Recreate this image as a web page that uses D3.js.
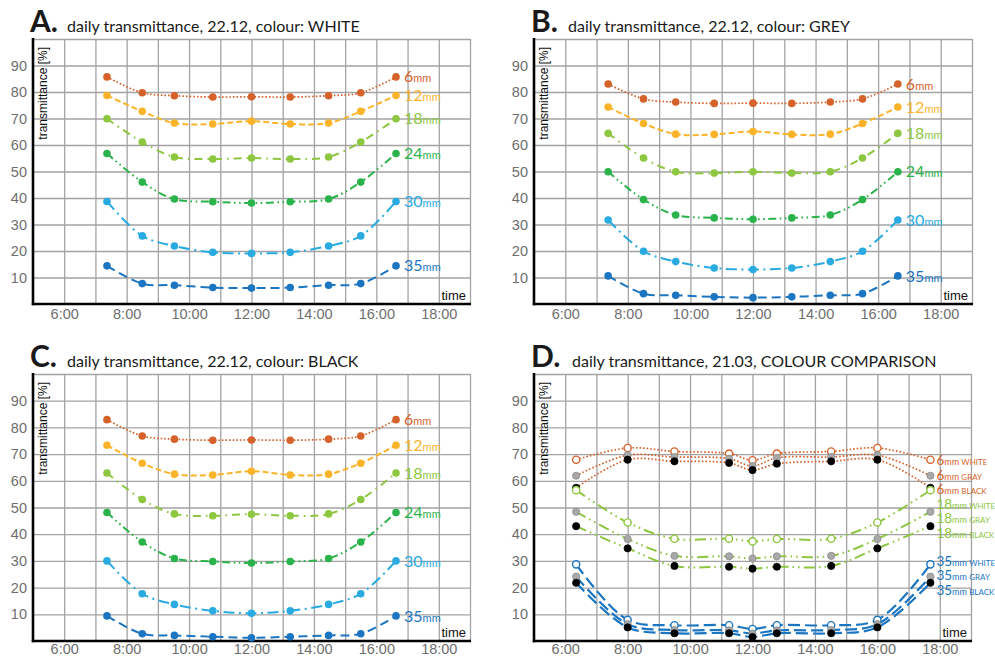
<!DOCTYPE html>
<html><head><meta charset="utf-8">
<script src="https://cdn.jsdelivr.net/npm/d3@7"></script>
<style>body{margin:0;background:#fff} svg{display:block}</style>
</head><body><svg id="chart" width="995" height="658"></svg>
<script>
// ---------- data ----------
// measurement times (decimal hours)
const timesDec = [7.37, 8.5, 9.53, 10.76, 12, 13.24, 14.47, 15.5, 16.63];   // 22.12
const timesMar = [6.35, 8.0, 9.5, 11.25, 12.0, 12.78, 14.52, 16.0, 17.7];   // 21.03
const thicknesses = ["6", "12", "18", "24", "30", "35"];

const whiteValues = [
  [85.7, 79.7, 78.6, 78.1, 78.2, 78.1, 78.6, 79.7, 85.7],
  [78.7, 72.7, 68.3, 67.9, 69.0, 67.9, 68.3, 72.7, 78.7],
  [69.9, 61.1, 55.5, 54.7, 55.1, 54.7, 55.5, 61.1, 69.9],
  [56.8, 46.0, 39.6, 38.6, 38.1, 38.6, 39.6, 46.0, 56.8],
  [38.7, 25.7, 21.9, 19.5, 19.1, 19.5, 21.9, 25.7, 38.7],
  [14.4, 7.7, 7.1, 6.2, 6.0, 6.2, 7.1, 7.7, 14.4]
];
const greyValues = [
  [83.0, 77.4, 76.2, 75.7, 75.8, 75.7, 76.2, 77.4, 83.0],
  [74.3, 68.1, 64.1, 64.0, 65.1, 64.0, 64.1, 68.1, 74.3],
  [64.4, 55.1, 49.9, 49.4, 49.9, 49.4, 49.9, 55.1, 64.4],
  [49.9, 39.4, 33.6, 32.5, 32.0, 32.5, 33.6, 39.4, 49.9],
  [31.7, 19.9, 16.0, 13.6, 13.0, 13.6, 16.0, 19.9, 31.7],
  [10.6, 3.9, 3.3, 2.7, 2.4, 2.7, 3.3, 3.9, 10.6]
];
const blackValues = [
  [82.9, 76.8, 75.6, 75.2, 75.3, 75.2, 75.6, 76.8, 82.9],
  [73.3, 66.6, 62.5, 62.2, 63.6, 62.2, 62.5, 66.6, 73.3],
  [62.9, 53.0, 47.6, 46.9, 47.5, 46.9, 47.6, 53.0, 62.9],
  [48.1, 37.1, 30.9, 29.8, 29.2, 29.8, 30.9, 37.1, 48.1],
  [30.0, 17.7, 13.7, 11.3, 10.4, 11.3, 13.7, 17.7, 30.0],
  [9.4, 2.7, 2.1, 1.6, 1.2, 1.6, 2.1, 2.7, 9.4]
];

const compThickness = ["6", "6", "6", "18", "18", "18", "35", "35", "35"];
const compColour = ["WHITE", "GRAY", "BLACK", "WHITE", "GRAY", "BLACK", "WHITE", "GRAY", "BLACK"];
const compValues = [
  [67.9, 72.3, 71.0, 70.2, 67.7, 70.2, 71.0, 72.3, 67.9],
  [61.9, 69.6, 68.9, 68.3, 65.5, 68.6, 68.9, 69.6, 61.9],
  [57.4, 67.9, 67.3, 66.7, 64.0, 66.4, 67.3, 67.9, 57.4],
  [56.5, 44.4, 38.3, 38.3, 37.3, 38.2, 38.3, 44.4, 56.5],
  [48.4, 38.2, 31.9, 31.7, 30.9, 31.7, 31.9, 38.2, 48.4],
  [43.0, 34.7, 28.1, 27.8, 27.1, 27.8, 28.1, 34.7, 43.0],
  [28.7, 7.9, 5.9, 5.9, 4.5, 5.9, 5.9, 7.9, 28.7],
  [24.1, 6.3, 4.1, 4.0, 2.8, 4.0, 4.1, 6.3, 24.1],
  [21.8, 5.1, 2.9, 2.9, 1.5, 2.9, 2.9, 5.1, 21.8]
];

const xTickHours = [6, 8, 10, 12, 14, 16, 18];
const xTickLabels = ["6:00", "8:00", "10:00", "12:00", "14:00", "16:00", "18:00"];
const yTickValues = [10, 20, 30, 40, 50, 60, 70, 80, 90];

// ---------- styles ----------
const colorOf = {"6": "#d5622b", "12": "#fbb42a", "18": "#8dc63f", "24": "#2bb34b", "30": "#29abe2", "35": "#1c75c0"};
const dashOf = {"6": "1.6 2", "12": "6 3", "18": "8 5 1.6 5", "24": "8 3.5 1.6 3.5 1.6 3.5", "30": "11 4.5 2 4.5", "35": "9 5"};
const dashD = {"6": "1.6 2", "18": "11 4 1.6 4 1.6 4", "35": "12 5"};
const markFill = {"WHITE": "#ffffff", "GRAY": "#a8a8a8", "BLACK": "#000000"};
const labelFont = "Lato, 'Open Sans', sans-serif";
const tickFont = "'Liberation Sans', Arial, sans-serif";

const svg = d3.select("#chart");

function panel(box, letter, title, titleDx) {
  const x = d3.scaleLinear().domain([5, 19]).range([box.l, box.r]);
  const y = d3.scaleLinear().domain([0, 100]).range([box.b, box.t]);
  const g = svg.append("g");
  const w = box.r - box.l, h = box.b - box.t;

  // vertical grid + x tick labels
  const ax = g.append("g").attr("transform", `translate(0,${box.b})`)
    .call(d3.axisBottom(x).tickValues(d3.range(6, 20)).tickSize(-h).tickPadding(box.pad)
      .tickFormat(d => { const i = xTickHours.indexOf(d); return i >= 0 ? xTickLabels[i] : ""; }));
  // horizontal grid + y tick labels
  const ay = g.append("g").attr("transform", `translate(${box.l},0)`)
    .call(d3.axisLeft(y).tickValues(d3.range(10, 101, 10)).tickSize(-w).tickPadding(6)
      .tickFormat(d => yTickValues.includes(d) ? d : ""));
  [ax, ay].forEach(a => {
    a.select(".domain").remove();
    a.selectAll(".tick line").attr("stroke", "#a3a3a3").attr("stroke-width", 1.3);
    a.selectAll(".tick text").attr("fill", "#6e6e6e").style("font-family", tickFont).style("font-size", "14.5px");
  });

  // black axis lines
  g.append("line").attr("x1", box.l).attr("x2", box.l).attr("y1", box.t - 1).attr("y2", box.b + 1.2)
    .attr("stroke", "#000").attr("stroke-width", 2.6);
  g.append("line").attr("x1", box.l - 1.2).attr("x2", box.r + 1).attr("y1", box.b).attr("y2", box.b)
    .attr("stroke", "#000").attr("stroke-width", 2.6);

  // axis titles
  g.append("text").attr("transform", `translate(${box.l + 14},${box.t + 8}) rotate(-90)`)
    .attr("text-anchor", "end").style("font-family", tickFont).style("font-size", "12px")
    .attr("fill", "#111").text("transmittance [%]");
  g.append("text").attr("x", box.r - 4).attr("y", box.b - 4).attr("text-anchor", "end")
    .style("font-family", tickFont).style("font-size", "13px").attr("fill", "#111").text("time");

  // panel title
  g.append("text").attr("x", box.l - 3).attr("y", box.t - 7)
    .style("font-family", labelFont).style("font-size", "30px").style("font-weight", "bold")
    .attr("fill", "#1a1a1a").text(letter);
  g.append("text").attr("x", box.l + titleDx).attr("y", box.t - 7)
    .style("font-family", labelFont).style("font-size", "16px").attr("fill", "#1a1a1a").text(title);
  return {x, y, g};
}

function seriesPanel(box, letter, title, values) {
  const {x, y, g} = panel(box, letter, title, 34);
  const line = d3.line().x((d, i) => x(timesDec[i])).y(d => y(d)).curve(d3.curveCatmullRom.alpha(0.5));
  values.forEach((vals, k) => {
    const t = thicknesses[k], c = colorOf[t];
    g.append("path").attr("d", line(vals)).attr("fill", "none").attr("stroke", c)
      .attr("stroke-width", t === "6" ? 1.7 : 2).attr("stroke-dasharray", dashOf[t]);
    g.selectAll(null).data(vals).enter().append("circle")
      .attr("cx", (d, i) => x(timesDec[i])).attr("cy", d => y(d)).attr("r", 3.8).attr("fill", c);
    const last = vals.length - 1;
    const lab = g.append("text").attr("x", x(timesDec[last]) + 8).attr("y", y(vals[last])).attr("dy", "0.35em")
      .style("font-family", labelFont).attr("fill", c);
    lab.append("tspan").style("font-size", "16px").text(t);
    lab.append("tspan").style("font-size", "11px").text("mm");
  });
}

const boxA = {l: 33, t: 39, r: 470, b: 304, pad: 5};
const boxB = {l: 534, t: 39, r: 972, b: 304, pad: 5};
const boxC = {l: 33, t: 374, r: 470, b: 641, pad: 3};
const boxD = {l: 534, t: 374, r: 971, b: 641, pad: 3};

seriesPanel(boxA, "A.", "daily transmittance, 22.12, colour: WHITE", whiteValues);
seriesPanel(boxB, "B.", "daily transmittance, 22.12, colour: GREY", greyValues);
seriesPanel(boxC, "C.", "daily transmittance, 22.12, colour: BLACK", blackValues);

// ---------- panel D ----------
(function () {
  const {x, y, g} = panel(boxD, "D.", "daily transmittance, 21.03, COLOUR COMPARISON", 38);
  const line = d3.line().x((d, i) => x(timesMar[i])).y(d => y(d)).curve(d3.curveCatmullRom.alpha(0.5));
  compValues.forEach((vals, k) => {
    const t = compThickness[k], c = colorOf[t];
    g.append("path").attr("d", line(vals)).attr("fill", "none").attr("stroke", c)
      .attr("stroke-width", t === "35" ? 2.2 : (t === "6" ? 1.7 : 2)).attr("stroke-dasharray", dashD[t]);
  });
  compValues.forEach((vals, k) => {
    const t = compThickness[k], c = colorOf[t], col = compColour[k];
    g.selectAll(null).data(vals).enter().append("circle")
      .attr("cx", (d, i) => x(timesMar[i])).attr("cy", d => y(d)).attr("r", 3.6)
      .attr("fill", markFill[col])
      .attr("stroke", col === "WHITE" ? c : (col === "GRAY" ? "#8a8a8a" : "#000"))
      .attr("stroke-width", col === "WHITE" ? 1.4 : 0.8);
  });
  // label placement: within a thickness group spread evenly if crowded, then push down
  const gap = 14.5;
  const last = compValues[0].length - 1;
  const pos = compValues.map(v => y(v[last]));
  ["6", "18", "35"].forEach(t => {
    const idx = compThickness.map((s, i) => s === t ? i : -1).filter(i => i >= 0);
    const ps = idx.map(i => pos[i]);
    let crowded = false;
    for (let j = 1; j < ps.length; j++) if (ps[j] - ps[j - 1] < gap) crowded = true;
    if (crowded) {
      const m = d3.mean(ps);
      idx.forEach((i, j) => pos[i] = m + (j - (idx.length - 1) / 2) * gap);
    }
  });
  for (let i = 1; i < pos.length; i++) pos[i] = Math.max(pos[i], pos[i - 1] + gap);
  compValues.forEach((vals, k) => {
    const t = compThickness[k], c = colorOf[t];
    const lab = g.append("text").attr("x", x(timesMar[last]) + 6).attr("y", pos[k]).attr("dy", "0.35em")
      .style("font-family", labelFont).attr("fill", c);
    lab.append("tspan").style("font-size", "13.5px").text(t);
    lab.append("tspan").style("font-size", "9px").text("mm ");
    lab.append("tspan").style("font-size", "8px").text(compColour[k]);
  });
})();
</script></body></html>
